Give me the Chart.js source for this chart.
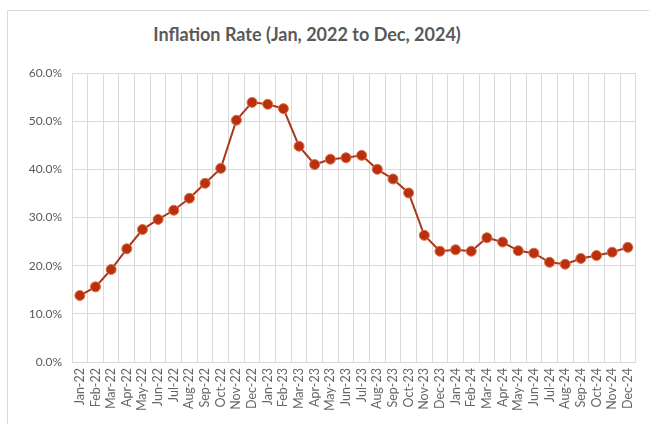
<!DOCTYPE html>
<html>
<head>
<meta charset="utf-8">
<script src="https://cdn.jsdelivr.net/npm/chart.js@4"></script>
<style>
  body { margin: 0; background: #fff; }
  #wrap { position: relative; width: 649px; height: 424px; }
  #frame { position: absolute; left: 7px; top: 10px; right: -2px; bottom: -2px;
           border-top: 1px solid #d9d9d9; border-left: 1px solid #d9d9d9; }
  #title { position: absolute; left: 0; top: 23px; width: 614px; text-align: center;
           font: bold 18px Lato, sans-serif; color: #595959; }
  canvas { position: absolute; left: 0; top: 0; }
</style>
</head>
<body>
<div id="wrap">
  <div id="frame"></div>
  <div id="title">Inflation Rate (Jan, 2022 to Dec, 2024)</div>
  <canvas id="chart" width="649" height="424"></canvas>
</div>
<script>
const months = ['Jan-22', 'Feb-22', 'Mar-22', 'Apr-22', 'May-22', 'Jun-22', 'Jul-22', 'Aug-22', 'Sep-22', 'Oct-22', 'Nov-22', 'Dec-22',
                'Jan-23', 'Feb-23', 'Mar-23', 'Apr-23', 'May-23', 'Jun-23', 'Jul-23', 'Aug-23', 'Sep-23', 'Oct-23', 'Nov-23', 'Dec-23',
                'Jan-24', 'Feb-24', 'Mar-24', 'Apr-24', 'May-24', 'Jun-24', 'Jul-24', 'Aug-24', 'Sep-24', 'Oct-24', 'Nov-24', 'Dec-24'];
const inflation = [13.8, 15.6, 19.2, 23.5, 27.5, 29.6, 31.5, 34.0, 37.1, 40.2, 50.2, 53.9,
                   53.5, 52.6, 44.8, 41.0, 42.1, 42.4, 42.9, 40.0, 38.0, 35.1, 26.3, 23.0,
                   23.3, 23.0, 25.8, 24.9, 23.1, 22.6, 20.7, 20.3, 21.5, 22.1, 22.8, 23.8];
const yTicks = [0, 10, 20, 30, 40, 50, 60];

var ctx = document.getElementById('chart').getContext('2d');

const chart = new Chart(ctx, {
    type: 'line',
    data: {
        labels: months,
        datasets: [{
            label: 'Inflation Rate',
            data: inflation,
            borderColor: '#a8381f',
            borderWidth: 2,
            pointRadius: 5,
            pointBackgroundColor: '#b8300f',
            pointBorderColor: '#e0703f',
            pointBorderWidth: 1,
            tension: 0,
        }]
    },
    options: {
        responsive: false,
        animation: false,
        layout: {
            padding: { left: 0, right: 12, top: 73, bottom: 0 },
        },
        plugins: {
            legend: { display: false },
            title: { display: false },
            tooltip: { enabled: false },
        },
        scales: {
            x: {
                offset: true,
                grid: { offset: true, color: '#d9d9d9', drawTicks: false },
                border: { color: '#d9d9d9' },
                ticks: {
                    color: '#666666',
                    font: { family: 'Lato', size: 12.5 },
                    minRotation: 90,
                    maxRotation: 90,
                    autoSkip: false,
                    padding: 6,
                },
                afterFit: function (scale) { scale.height = 62; },
            },
            y: {
                min: yTicks[0],
                max: yTicks[yTicks.length - 1],
                afterBuildTicks: function (scale) { scale.ticks = yTicks.map(v => ({ value: v })); },
                grid: { color: '#d9d9d9', drawTicks: false },
                border: { color: '#d9d9d9' },
                ticks: {
                    color: '#595959',
                    font: { family: 'Lato', size: 12 },
                    padding: 10,
                    callback: v => v.toFixed(1) + '%',
                },
                afterFit: function (scale) { scale.width = 72; },
            },
        },
    },
});
</script>
</body>
</html>
